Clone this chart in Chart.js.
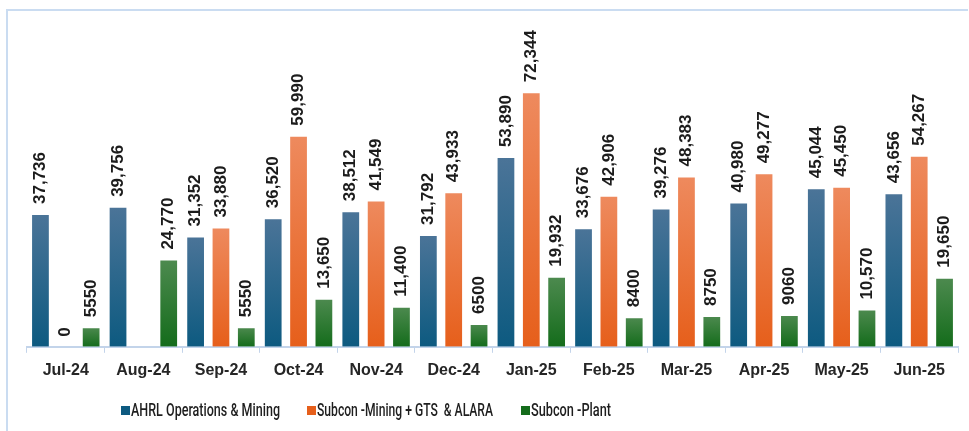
<!DOCTYPE html>
<html>
<head>
<meta charset="utf-8">
<script src="https://cdn.jsdelivr.net/npm/chart.js@4"></script>
<style>
  html, body { margin: 0; padding: 0; background: #fff; }
  #wrap { position: relative; width: 969px; height: 431px; overflow: hidden; }
  #frame { position: absolute; left: 6px; top: 9px; width: 960px; height: 430px;
           border-top: 2px solid #cadcf1; border-left: 2px solid #cadcf1; }
  #chart { position: absolute; left: 0; top: 0; }
  #legend { position: absolute; top: 401px; left: 0; font: 500 18px "Roboto", sans-serif; color: #1e1e1e; }
  .item { position: absolute; white-space: pre; line-height: 18px; }
  .txt { display: inline-block; transform-origin: left center; }
  .sw { position: absolute; left: -10px; top: 5px; width: 9px; height: 9px; }
</style>
</head>
<body>
<div id="wrap">
  <div id="frame"></div>
  <canvas id="chart" width="969" height="431"></canvas>
  <div id="legend"></div>
</div>
<script>
// dados
const meses = ['Jul-24', 'Aug-24', 'Sep-24', 'Oct-24', 'Nov-24', 'Dec-24', 'Jan-25', 'Feb-25', 'Mar-25', 'Apr-25', 'May-25', 'Jun-25'];
const ahrl = [37736, 39756, 31352, 36520, 38512, 31792, 53890, 33676, 39276, 40980, 45044, 43656];
const subconMining = [0, null, 33880, 59990, 41549, 43933, 72344, 42906, 48383, 49277, 45450, 54267];
const subconPlant = [5550, 24770, 5550, 13650, 11400, 6500, 19932, 8400, 8750, 9060, 10570, 19650];
const nomes = ['AHRL Operations & Mining', 'Subcon -Mining + GTS  & ALARA', 'Subcon -Plant'];

// cores (topo, base)
const cores = [
  ['#4b7498', '#0d5a80'],
  ['#ee8a5e', '#e65f1b'],
  ['#4d8a4f', '#146c1b']
];

function gradiente(idx) {
  return function (ctx) {
    const chart = ctx.chart;
    const area = chart.chartArea;
    if (!area || ctx.parsed == null || ctx.parsed.y == null) return cores[idx][1];
    const y = chart.scales.y;
    const top = y.getPixelForValue(ctx.parsed.y);
    const bottom = y.getPixelForValue(0);
    if (bottom - top < 1) return cores[idx][1];
    const g = chart.ctx.createLinearGradient(0, top, 0, bottom);
    g.addColorStop(0, cores[idx][0]);
    g.addColorStop(1, cores[idx][1]);
    return g;
  };
}

function fmt(v) {
  return v >= 10000 ? v.toLocaleString('en-US') : String(v);
}

// rótulos verticais em cima das barras
const rotulos = {
  id: 'rotulos',
  afterDatasetsDraw(chart) {
    const ctx = chart.ctx;
    ctx.save();
    ctx.font = 'bold 17px "Liberation Sans", Arial, sans-serif';
    ctx.fillStyle = '#1c1c1c';
    ctx.textAlign = 'left';
    ctx.textBaseline = 'middle';
    chart.data.datasets.forEach((ds, i) => {
      const meta = chart.getDatasetMeta(i);
      meta.data.forEach((bar, j) => {
        const v = ds.data[j];
        if (v == null) return;
        ctx.save();
        ctx.translate(bar.x, bar.y - 10);
        ctx.rotate(-Math.PI / 2);
        ctx.fillText(fmt(v), 0, 0);
        ctx.restore();
      });
    });
    ctx.restore();
  }
};

const ctxBarras = document.getElementById('chart').getContext('2d');
const grafico = new Chart(ctxBarras, {
  type: 'bar',
  data: {
    labels: meses,
    datasets: [ahrl, subconMining, subconPlant].map((d, i) => ({
      label: nomes[i],
      data: d,
      backgroundColor: gradiente(i),
      borderColor: 'rgba(255,255,255,0.35)',
      borderWidth: 1,
      barPercentage: 0.74,
      categoryPercentage: 0.98
    }))
  },
  options: {
    responsive: false,
    animation: false,
    layout: { padding: { left: 27, right: 11, top: 30, bottom: 43 } },
    plugins: {
      legend: { display: false },
      tooltip: { enabled: false }
    },
    scales: {
      x: {
        grid: { display: true, drawOnChartArea: false, color: '#c3d4ea', tickLength: 6, offset: true },
        border: { display: true, color: '#c3d4ea', width: 2 },
        ticks: { color: '#262626', font: { family: '"Liberation Sans", Arial, sans-serif', size: 16, weight: 'bold' }, padding: 8 }
      },
      y: {
        display: false,
        min: 0,
        max: 90000
      }
    }
  },
  plugins: [rotulos]
});

// legenda (posição e largura do texto como na imagem)
const posLegenda = [131, 317, 531];
const largLegenda = [149, 176, 80];
const leg = document.getElementById('legend');
nomes.forEach((n, i) => {
  const el = document.createElement('div');
  el.className = 'item';
  el.style.left = posLegenda[i] + 'px';
  const sw = document.createElement('span');
  sw.className = 'sw';
  sw.style.background = cores[i][1];
  const t = document.createElement('span');
  t.className = 'txt';
  t.textContent = n;
  el.appendChild(sw);
  el.appendChild(t);
  leg.appendChild(el);
  const w = t.getBoundingClientRect().width;
  t.style.transform = 'scaleX(' + (largLegenda[i] / w) + ')';
});
</script>
</body>
</html>
